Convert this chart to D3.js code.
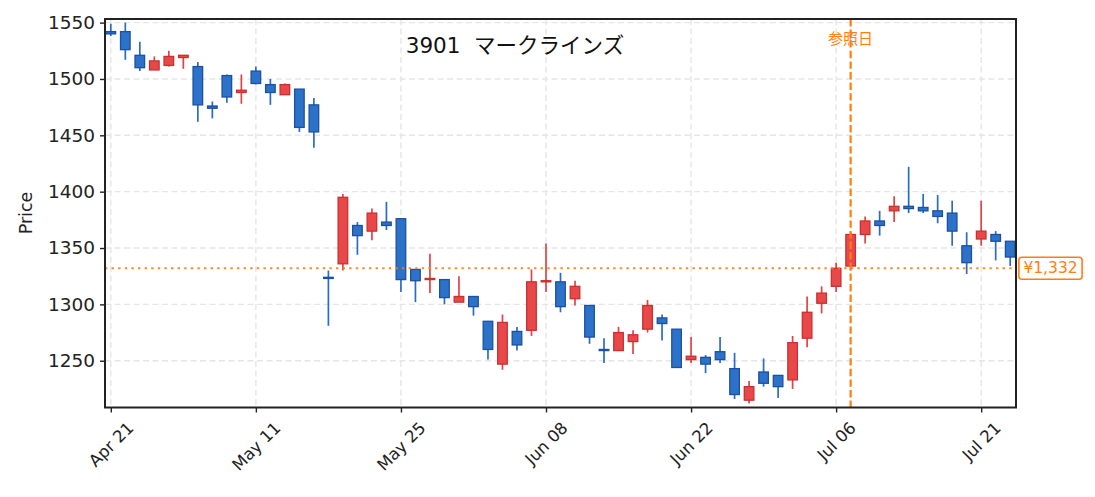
<!DOCTYPE html>
<html>
<head>
<meta charset="utf-8">
<script src="https://cdn.jsdelivr.net/npm/d3@7"></script>
<style>
  html, body { margin: 0; padding: 0; background: #fff; }
  svg { display: block; }
  text { font-family: "DejaVu Sans", "Noto Sans CJK JP", sans-serif; white-space: pre; }
</style>
</head>
<body>
<svg id="chart" width="1095" height="497"></svg>
<script>
// ---- data ----
const title = "3901  マークラインズ";
const dates = [
  "2026-04-21","2026-04-22","2026-04-23","2026-04-24","2026-04-27","2026-04-28","2026-04-30","2026-05-01",
  "2026-05-07","2026-05-08","2026-05-11","2026-05-12","2026-05-13","2026-05-14","2026-05-15","2026-05-18",
  "2026-05-19","2026-05-20","2026-05-21","2026-05-22","2026-05-25","2026-05-26","2026-05-27","2026-05-28",
  "2026-05-29","2026-06-01","2026-06-02","2026-06-03","2026-06-04","2026-06-05","2026-06-08","2026-06-09",
  "2026-06-10","2026-06-11","2026-06-12","2026-06-15","2026-06-16","2026-06-17","2026-06-18","2026-06-19",
  "2026-06-22","2026-06-23","2026-06-24","2026-06-25","2026-06-26","2026-06-29","2026-06-30","2026-07-01",
  "2026-07-02","2026-07-03","2026-07-06","2026-07-07","2026-07-08","2026-07-09","2026-07-10","2026-07-13",
  "2026-07-14","2026-07-15","2026-07-16","2026-07-17","2026-07-21","2026-07-22","2026-07-23"
];
const open  = [1542,1542,1521,1508,1512,1519,1511,1476,1503,1488,1507,1495,1486,1491,1477,1324,
               1336,1370,1365,1373,1376,1331,1322,1322,1302,1307,1285,1247,1276,1277,1320,1320,
               1305,1299,1260,1259,1267,1278,1288,1278,1251,1253,1258,1243,1215,1240,1237,1233,
               1270,1301,1316,1334,1362,1374,1383,1387,1386,1383,1381,1352,1358,1362,1356];
const high  = [1549,1550,1533,1520,1525,1521,1515,1480,1504,1504,1511,1500,1496,1491,1483,1330,
               1398,1373,1385,1391,1376,1331,1345,1322,1325,1307,1285,1291,1280,1331,1354,1328,
               1321,1299,1270,1280,1277,1304,1291,1278,1271,1255,1271,1257,1232,1252,1237,1272,
               1307,1316,1337,1364,1378,1383,1396,1422,1398,1397,1392,1364,1392,1365,1356];
const low   = [1538,1517,1507,1508,1511,1509,1462,1465,1479,1478,1495,1477,1486,1453,1439,1281,
               1330,1344,1357,1366,1311,1302,1310,1300,1302,1290,1251,1242,1259,1272,1311,1293,
               1299,1265,1248,1259,1256,1275,1268,1244,1248,1239,1248,1216,1212,1227,1217,1225,
               1262,1292,1311,1330,1354,1361,1373,1381,1381,1372,1352,1327,1352,1339,1334];
const close = [1540,1526,1510,1516,1520,1521,1477,1474,1484,1490,1496,1488,1495,1457,1453,1323,
               1395,1361,1381,1370,1322,1321,1323,1306,1307,1298,1260,1284,1264,1320,1321,1298,
               1316,1271,1259,1275,1273,1299,1283,1244,1254,1247,1251,1220,1227,1230,1227,1266,
               1293,1310,1332,1362,1374,1370,1387,1385,1383,1378,1365,1337,1365,1356,1342];
const yTicks = [1250,1300,1350,1400,1450,1500,1550];
const xTickIndex = [0,10,20,30,40,50,60];
const refDate = "2026-07-07";
const refLabel = "参照日";
const refPrice = 1332;
const yLabel = "Price";

// ---- layout ----
const W = 1095, H = 497;
const m = {left: 105, right: 79, top: 19, bottom: 89.5};
const svg = d3.select("#chart");
const pw = W - m.left - m.right, ph = H - m.top - m.bottom;

const x = d3.scaleLinear().domain([-0.4, dates.length - 1 + 0.4]).range([m.left, m.left + pw]);
const y = d3.scaleLinear().domain([1208.5, 1553.2]).range([m.top + ph, m.top]);
const step = x(1) - x(0);
const bw = step * 0.66;

const parse = d3.timeParse("%Y-%m-%d");
const fmt = d3.timeFormat("%b %d");

const UP_FILL = "#e8484a", UP_EDGE = "#c9302f";
const DN_FILL = "#2d72c9", DN_EDGE = "#1c50a0";
const ORANGE = "#ff7f0e";
const FONT = '"DejaVu Sans", "Noto Sans CJK JP", sans-serif';

// grid
const grid = svg.append("g");
grid.selectAll("line.gy").data(yTicks).join("line")
  .attr("x1", m.left).attr("x2", m.left + pw)
  .attr("y1", d => y(d)).attr("y2", d => y(d))
  .attr("stroke", "#e6e6e6").attr("stroke-width", 1.4).attr("stroke-dasharray", "6,3.5");
grid.selectAll("line.gx").data(xTickIndex).join("line")
  .attr("x1", d => x(d)).attr("x2", d => x(d))
  .attr("y1", m.top).attr("y2", m.top + ph)
  .attr("stroke", "#e6e6e6").attr("stroke-width", 1.4).attr("stroke-dasharray", "6,3.5");

// candles
const data = dates.map((d, i) => ({i, d, o: open[i], h: high[i], l: low[i], c: close[i]}));
const cg = svg.append("g");
const isUp = d => d.c >= d.o;
cg.selectAll("line.wick").data(data).join("line")
  .attr("x1", d => x(d.i)).attr("x2", d => x(d.i))
  .attr("y1", d => y(d.h)).attr("y2", d => y(d.l))
  .attr("stroke", d => isUp(d) ? "#e04345" : "#2a6cc4").attr("stroke-width", 1.7);
cg.selectAll("rect.body").data(data).join("rect")
  .attr("x", d => x(d.i) - bw / 2).attr("width", bw)
  .attr("y", d => y(Math.max(d.o, d.c)))
  .attr("height", d => Math.max(1, Math.abs(y(d.o) - y(d.c))))
  .attr("fill", d => isUp(d) ? UP_FILL : DN_FILL)
  .attr("stroke", d => isUp(d) ? UP_EDGE : DN_EDGE).attr("stroke-width", 1.3);

// reference price dotted line
svg.append("line")
  .attr("x1", m.left).attr("x2", m.left + pw)
  .attr("y1", y(refPrice)).attr("y2", y(refPrice))
  .attr("stroke", ORANGE).attr("stroke-width", 2).attr("stroke-dasharray", "2.4,4.2").attr("opacity", 0.9);

// reference date dashed line
const refIdx = dates.indexOf(refDate);
svg.append("line")
  .attr("x1", x(refIdx)).attr("x2", x(refIdx))
  .attr("y1", m.top).attr("y2", m.top + ph)
  .attr("stroke", ORANGE).attr("stroke-width", 2.2).attr("stroke-dasharray", "7.4,3.2");

// axes
const yAxis = d3.axisLeft(y).tickValues(yTicks).tickSize(5).tickPadding(5).tickFormat(d3.format("d"));
const yg = svg.append("g").attr("transform", `translate(${m.left},0)`).call(yAxis);
yg.select(".domain").remove();
yg.selectAll("line").attr("stroke", "#222").attr("stroke-width", 1.4);
yg.selectAll("text").attr("font-size", 18.5).attr("fill", "#222").attr("font-family", FONT);

const xAxis = d3.axisBottom(x).tickValues(xTickIndex).tickSize(5).tickFormat(i => fmt(parse(dates[i])));
const xg = svg.append("g").attr("transform", `translate(0,${m.top + ph})`).call(xAxis);
xg.select(".domain").remove();
xg.selectAll("line").attr("stroke", "#222").attr("stroke-width", 1.4);
xg.selectAll("text").attr("font-size", 16.5).attr("fill", "#222")
  .attr("font-family", FONT)
  .attr("dy", null).attr("y", 0)
  .attr("text-anchor", "middle").attr("dominant-baseline", "central")
  .each(function() {
    const t = d3.select(this);
    const L = this.getComputedTextLength();
    const h = 13;
    const cy = 13 + (L + h) / (2 * Math.SQRT2);
    t.attr("transform", `translate(0,${cy}) rotate(-45)`);
  });

// frame
svg.append("rect")
  .attr("x", m.left).attr("y", m.top).attr("width", pw).attr("height", ph)
  .attr("fill", "none").attr("stroke", "#222").attr("stroke-width", 2);

// y label
svg.append("text")
  .attr("transform", `translate(26,213) rotate(-90)`)
  .attr("text-anchor", "middle").attr("dominant-baseline", "central")
  .attr("font-size", 17.5).attr("fill", "#222").text(yLabel);

// title
svg.append("text")
  .attr("x", m.left + pw * 0.45).attr("y", 45)
  .attr("text-anchor", "middle").attr("dominant-baseline", "central")
  .attr("font-size", 21.5).attr("fill", "#111").text(title);

// ref label
svg.append("text")
  .attr("x", x(refIdx)).attr("y", 39)
  .attr("text-anchor", "middle").attr("dominant-baseline", "central")
  .attr("font-size", 15).attr("fill", ORANGE).text(refLabel);

// price tag
const tagText = "¥" + d3.format(",")(refPrice);
const tag = svg.append("g").attr("transform", `translate(1050.5,${y(refPrice)})`);
const tt = tag.append("text").attr("text-anchor", "middle").attr("dominant-baseline", "central")
  .attr("font-size", 15.5).attr("fill", ORANGE).text(tagText);
const tw = tt.node().getComputedTextLength();
tag.insert("rect", "text")
  .attr("x", -tw / 2 - 4.5).attr("y", -11).attr("width", tw + 9).attr("height", 22)
  .attr("rx", 3).attr("fill", "#fff").attr("stroke", ORANGE).attr("stroke-width", 1.6);
</script>
</body>
</html>
